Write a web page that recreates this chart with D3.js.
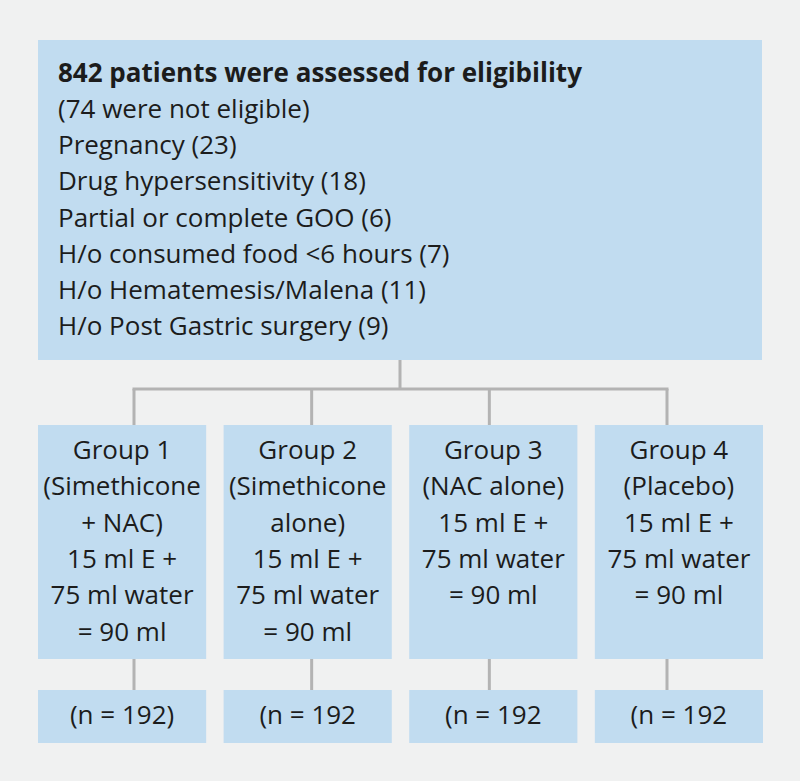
<!DOCTYPE html>
<html><head><meta charset="utf-8">
<script src="https://cdn.jsdelivr.net/npm/d3@7"></script>
<style>body{margin:0;background:#f0f1f1;} svg{display:block;}</style>
</head><body>
<svg id="c" width="800" height="781"></svg>
<script>
const headerTitle = "842 patients were assessed for eligibility";
const exclusionLines = ["(74 were not eligible)","Pregnancy (23)","Drug hypersensitivity (18)","Partial or complete GOO (6)","H/o consumed food <6 hours (7)","H/o Hematemesis/Malena (11)","H/o Post Gastric surgery (9)"];
const groups = ["Group 1","Group 2","Group 3","Group 4"];
const groupLines = [
  ["(Simethicone","+ NAC)","15 ml E +","75 ml water","= 90 ml"],
  ["(Simethicone","alone)","15 ml E +","75 ml water","= 90 ml"],
  ["(NAC alone)","15 ml E +","75 ml water","= 90 ml"],
  ["(Placebo)","15 ml E +","75 ml water","= 90 ml"]
];
const nLabels = ["(n = 192)","(n = 192","(n = 192","(n = 192"];

const svg = d3.select("#c");
const font = "'Open Sans', sans-serif";
const fs = 26;
const boxFill = "#c1dcf0", lineCol = "#b3b3b3", txt = "#1c1c1c";
svg.append("rect").attr("width",800).attr("height",781).attr("fill","#f0f1f1");

const x = d3.scaleBand().domain(groups).range([38,763]).paddingInner(0.094).paddingOuter(0);
const xc = d3.scalePoint().domain(groups).range([134,667]);
const topBox = {x0:38,x1:762,y0:40,y1:360};
const gy0 = 425, gy1 = 659, ny0 = 690, ny1 = 743, hy = 389;

// connectors
const lg = svg.append("g").attr("stroke",lineCol).attr("stroke-width",3).attr("fill","none");
lg.append("line").attr("x1",400).attr("x2",400).attr("y1",topBox.y1).attr("y2",hy);
const cx = g => x(g)+x.bandwidth()/2;
lg.append("line").attr("x1",xc(groups[0])-1.5).attr("x2",xc(groups[3])+1.5).attr("y1",hy).attr("y2",hy);
groups.forEach(g=>{
  lg.append("line").attr("x1",xc(g)).attr("x2",xc(g)).attr("y1",hy).attr("y2",gy0);
  lg.append("line").attr("x1",xc(g)).attr("x2",xc(g)).attr("y1",gy1).attr("y2",ny0);
});

// top box
svg.append("rect").attr("x",topBox.x0).attr("y",topBox.y0).attr("width",topBox.x1-topBox.x0).attr("height",topBox.y1-topBox.y0).attr("fill",boxFill);
const allTop = [headerTitle].concat(exclusionLines);
svg.append("g").selectAll("text").data(allTop).join("text")
  .attr("x",58).attr("y",(d,i)=>73+i*36.1).attr("dy","0.35em")
  .attr("font-family",font).attr("font-size",fs).attr("fill",txt)
  .attr("font-weight",(d,i)=>i===0?700:400).text(d=>d);

// group boxes
groups.forEach((g,gi)=>{
  svg.append("rect").attr("x",x(g)).attr("y",gy0).attr("width",x.bandwidth()).attr("height",gy1-gy0).attr("fill",boxFill);
  svg.append("rect").attr("x",x(g)).attr("y",ny0).attr("width",x.bandwidth()).attr("height",ny1-ny0).attr("fill",boxFill);
  const lines=[g].concat(groupLines[gi]);
  svg.append("g").selectAll("text").data(lines).join("text")
    .attr("x",cx(g)).attr("y",(d,i)=>450+i*36.3).attr("dy","0.35em").attr("text-anchor","middle")
    .attr("font-family",font).attr("font-size",fs).attr("fill",txt).text(d=>d);
  svg.append("text").attr("x",cx(g)).attr("y",715).attr("dy","0.35em").attr("text-anchor","middle")
    .attr("font-family",font).attr("font-size",fs).attr("fill",txt).text(nLabels[gi]);
});
</script></body></html>
